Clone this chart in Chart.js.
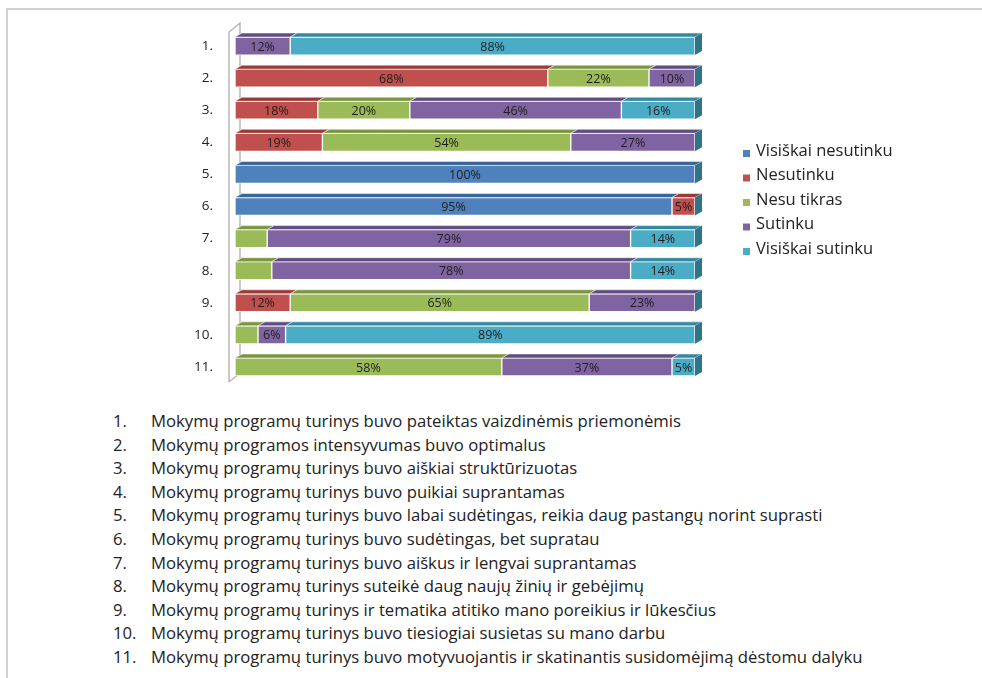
<!DOCTYPE html>
<html>
<head>
    <title>Mokymų programų vertinimas</title>
    <script src="https://cdn.jsdelivr.net/npm/chart.js"></script>
    <style>
        body {
            margin: 0;
            background: #fff;
            font-family: 'Open Sans', 'Noto Sans', sans-serif;
            color: #222;
        }
        .page {
            position: relative;
            width: 982px;
            height: 678px;
            overflow: hidden;
        }
        .frame {
            position: absolute;
            left: 6px;
            top: 8px;
            right: 0;
            bottom: 0;
            border-top: 2px solid #d2d2d2;
            border-left: 2px solid #d2d2d2;
        }
        #chart {
            position: absolute;
            left: 0;
            top: 0;
        }
        ol {
            position: absolute;
            left: 113px;
            top: 409px;
            margin: 0;
            padding: 0;
            list-style: none;
            font-size: 16.7px;
            line-height: 23.6px;
        }
        ol li span {
            display: inline-block;
            width: 38px;
        }
    </style>
</head>
<body>
<div class="page">
    <div class="frame"></div>
    <canvas id="chart" width="982" height="400"></canvas>
    <ol id="items"></ol>
</div>

<script>
    const categories = ['1.', '2.', '3.', '4.', '5.', '6.', '7.', '8.', '9.', '10.', '11.'];
    const seriesNames = ['Visiškai nesutinku', 'Nesutinku', 'Nesu tikras', 'Sutinku', 'Visiškai sutinku'];
    const visiskaiNesutinku = [0, 0, 0, 0, 100, 95, 0, 0, 0, 0, 0];
    const nesutinku = [0, 68, 18, 19, 0, 5, 0, 0, 12, 0, 0];
    const nesuTikras = [0, 22, 20, 54, 0, 0, 7, 8, 65, 5, 58];
    const sutinku = [12, 10, 46, 27, 0, 0, 79, 78, 23, 6, 37];
    const visiskaiSutinku = [88, 0, 16, 0, 0, 0, 14, 14, 0, 89, 5];
    // cells whose label is left out in the original [series, row]
    const hiddenLabels = [[2, 6], [2, 7], [2, 9]];

    const statements = [
        'Mokymų programų turinys buvo pateiktas vaizdinėmis priemonėmis',
        'Mokymų programos intensyvumas buvo optimalus',
        'Mokymų programų turinys buvo aiškiai struktūrizuotas',
        'Mokymų programų turinys buvo puikiai suprantamas',
        'Mokymų programų turinys buvo labai sudėtingas, reikia daug pastangų norint suprasti',
        'Mokymų programų turinys buvo sudėtingas, bet supratau',
        'Mokymų programų turinys buvo aiškus ir lengvai suprantamas',
        'Mokymų programų turinys suteikė daug naujų žinių ir gebėjimų',
        'Mokymų programų turinys ir tematika atitiko mano poreikius ir lūkesčius',
        'Mokymų programų turinys buvo tiesiogiai susietas su mano darbu',
        'Mokymų programų turinys buvo motyvuojantis ir skatinantis susidomėjimą dėstomu dalyku'
    ];

    const colors = ['#4f81bd', '#c0504d', '#9bbb59', '#8064a2', '#4bacc6'];
    const topColors = ['#3a6596', '#9a3b38', '#7a9641', '#634c80', '#34899f'];
    const sideColor = '#2f7487';
    const dx = 7, dy = 4;

    const list = document.getElementById('items');
    statements.forEach((s, i) => {
        const li = document.createElement('li');
        li.innerHTML = '<span>' + (i + 1) + '.</span>' + s;
        list.appendChild(li);
    });

    const values = [visiskaiNesutinku, nesutinku, nesuTikras, sutinku, visiskaiSutinku];

    const bars3d = {
        id: 'bars3d',
        beforeDatasetsDraw(chart) {
            // back wall of the 3d plot
            const ctx = chart.ctx;
            const a = chart.chartArea;
            const x0 = a.left - 6, y0 = a.top + 2, y1 = a.bottom - 1;
            ctx.save();
            ctx.strokeStyle = '#b8b8b8';
            ctx.lineWidth = 1.5;
            ctx.beginPath();
            ctx.moveTo(x0, y1);
            ctx.lineTo(x0, y0);
            ctx.lineTo(x0 + 11, y0 - 9);
            ctx.lineTo(x0 + 11, y1 - 9);
            ctx.moveTo(x0, y1);
            ctx.lineTo(x0 + 11, y1 - 9);
            ctx.stroke();
            ctx.restore();
        },
        afterDatasetsDraw(chart) {
            const ctx = chart.ctx;
            ctx.save();
            const ends = [];
            chart.data.datasets.forEach((ds, di) => {
                chart.getDatasetMeta(di).data.forEach((bar, i) => {
                    if (!ds.data[i]) return;
                    const left = Math.min(bar.x, bar.base), right = Math.max(bar.x, bar.base);
                    const top = bar.y - bar.height / 2;
                    ctx.fillStyle = topColors[di];
                    ctx.beginPath();
                    ctx.moveTo(left, top);
                    ctx.lineTo(left + dx, top - dy);
                    ctx.lineTo(right + dx, top - dy);
                    ctx.lineTo(right, top);
                    ctx.closePath();
                    ctx.fill();
                    ctx.strokeStyle = 'rgba(255,255,255,0.5)';
                    ctx.lineWidth = 1;
                    ctx.stroke();
                    if (!ends[i] || right > ends[i].right) ends[i] = { right, top, bottom: bar.y + bar.height / 2 };
                });
            });
            ends.forEach(e => {
                if (!e) return;
                ctx.fillStyle = sideColor;
                ctx.beginPath();
                ctx.moveTo(e.right, e.top);
                ctx.lineTo(e.right + dx, e.top - dy);
                ctx.lineTo(e.right + dx, e.bottom - dy);
                ctx.lineTo(e.right, e.bottom);
                ctx.closePath();
                ctx.fill();
            });

            ctx.font = '12.5px "Open Sans", sans-serif';
            ctx.fillStyle = '#1e1e1e';
            ctx.textAlign = 'center';
            ctx.textBaseline = 'middle';
            chart.data.datasets.forEach((ds, di) => {
                chart.getDatasetMeta(di).data.forEach((bar, i) => {
                    const v = ds.data[i];
                    if (!v) return;
                    if (hiddenLabels.some(h => h[0] === di && h[1] === i)) return;
                    ctx.fillText(v + '%', (bar.x + bar.base) / 2, bar.y + 1);
                });
            });
            ctx.restore();
        },
        afterDraw(chart) {
            const ctx = chart.ctx;
            ctx.save();
            ctx.font = '16.5px "Open Sans", sans-serif';
            ctx.textBaseline = 'middle';
            ctx.textAlign = 'left';
            seriesNames.forEach((name, i) => {
                const y = 151 + i * 24.5;
                ctx.fillStyle = colors[i];
                ctx.fillRect(743, y - 1, 7, 7);
                ctx.fillStyle = '#222';
                ctx.fillText(name, 756, y);
            });
            ctx.restore();
        }
    };

    new Chart(document.getElementById('chart'), {
        type: 'bar',
        data: {
            labels: categories,
            datasets: seriesNames.map((name, i) => ({
                label: name,
                data: values[i].map(v => v || null),
                backgroundColor: colors[i],
                borderColor: 'rgba(255,255,255,0.75)',
                borderWidth: 1,
                borderSkipped: false,
                barThickness: 18
            }))
        },
        options: {
            indexAxis: 'y',
            responsive: false,
            devicePixelRatio: 1,
            animation: false,
            layout: {
                padding: { left: 0, right: 287, top: 30, bottom: 17 }
            },
            plugins: {
                legend: { display: false },
                tooltip: { enabled: false }
            },
            scales: {
                x: {
                    stacked: true,
                    min: 0,
                    max: 100,
                    display: false
                },
                y: {
                    stacked: true,
                    grid: { display: false, drawTicks: false },
                    border: { display: false },
                    afterFit(scale) {
                        scale.width = 235;
                        scale.paddingTop = 0;
                        scale.paddingBottom = 0;
                    },
                    ticks: {
                        padding: 22,
                        color: '#222',
                        font: { family: 'Open Sans', size: 13.5 }
                    }
                }
            }
        },
        plugins: [bars3d]
    });
</script>
</body>
</html>
